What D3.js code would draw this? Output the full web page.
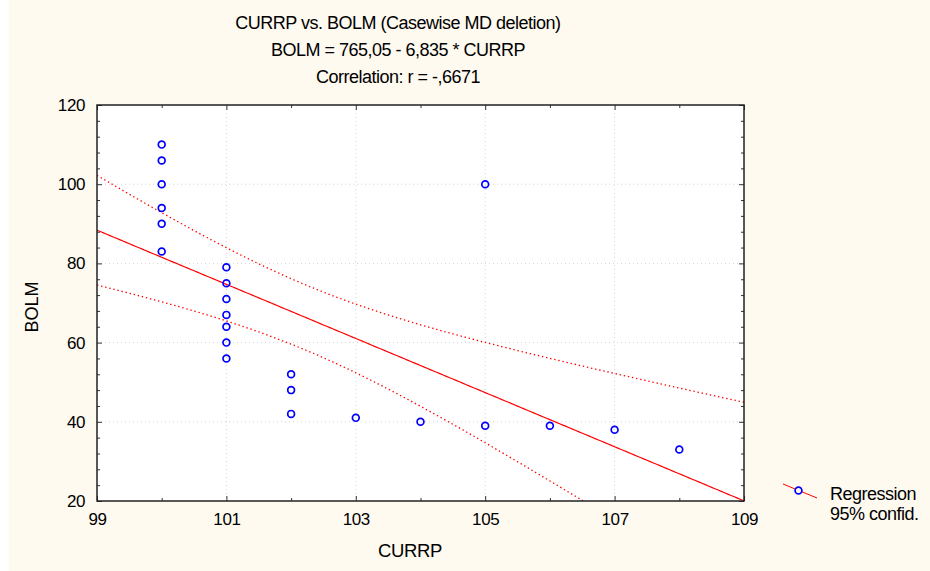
<!DOCTYPE html>
<html>
<head>
<meta charset="utf-8">
<script src="https://cdn.jsdelivr.net/npm/d3@7"></script>
<style>
  html, body { margin: 0; padding: 0; background: #ffffff; }
  svg { display: block; }
  text { font-family: "Liberation Sans", Arial, sans-serif; fill: #000; }
</style>
</head>
<body>
<svg id="chart" width="930" height="571"></svg>
<script>
// ---- Data ----
const currp = [100,100,100,100,100,100, 101,101,101,101,101,101,101, 102,102,102, 103, 104, 105,105, 106, 107, 108];
const bolm  = [110,106,100,94,90,83,   79,75,71,67,64,60,56,        52,48,42,    41,  40,  100,39,  39,  38,  33];
const xTicks = [99,101,103,105,107,109];
const yTicks = [20,40,60,80,100,120];
const xMinor = [100,102,104,106,108];
const yMinor = [24,28,32,36,44,48,52,56,64,68,72,76,84,88,92,96,104,108,112,116];
const titleLines = ["CURRP vs. BOLM (Casewise MD deletion)", "BOLM = 765,05 - 6,835 * CURRP", "Correlation: r = -,6671"];
const regIntercept = 765.05, regSlope = -6.835;
const legendLabels = ["Regression", "95% confid."];

// ---- Layout ----
const W = 930, H = 571;
const plot = {left: 97, top: 105, right: 744, bottom: 501};
const svg = d3.select("#chart");

svg.append("rect").attr("x", 0).attr("y", 0).attr("width", W).attr("height", H).attr("fill", "#ffffff");
svg.append("rect").attr("x", 9).attr("y", 0).attr("width", W - 9).attr("height", H).attr("fill", "#fffaf0");

const x = d3.scaleLinear().domain([99, 109]).range([plot.left, plot.right]);
const y = d3.scaleLinear().domain([20, 120]).range([plot.bottom, plot.top]);

svg.append("rect").attr("x", plot.left).attr("y", plot.top)
  .attr("width", plot.right - plot.left).attr("height", plot.bottom - plot.top).attr("fill", "#ffffff");

// grid
const grid = svg.append("g");
grid.selectAll(".gx").data(xTicks.slice(1, -1)).join("line")
  .attr("x1", d => x(d)).attr("x2", d => x(d)).attr("y1", plot.top).attr("y2", plot.bottom)
  .attr("stroke", "#d4d4d4").attr("stroke-width", 1).attr("stroke-dasharray", "1,3");
grid.selectAll(".gy").data(yTicks.slice(1, -1)).join("line")
  .attr("y1", d => y(d)).attr("y2", d => y(d)).attr("x1", plot.left).attr("x2", plot.right)
  .attr("stroke", "#d4d4d4").attr("stroke-width", 1).attr("stroke-dasharray", "1,3");

// regression + confidence bands
const n = currp.length;
const mx = d3.mean(currp);
const sxx = d3.sum(currp, v => (v - mx) ** 2);
const sse = d3.sum(currp, (v, i) => (bolm[i] - (regIntercept + regSlope * v)) ** 2);
const s = Math.sqrt(sse / (n - 2));
const tCrit = 2.0796; // t(0.975, 21)
const xs = d3.range(0, 201).map(i => 99 + i * 0.05);
const fit = v => regIntercept + regSlope * v;
const half = v => tCrit * s * Math.sqrt(1 / n + (v - mx) ** 2 / sxx);

svg.append("clipPath").attr("id", "clip").append("rect")
  .attr("x", plot.left).attr("y", plot.top).attr("width", plot.right - plot.left).attr("height", plot.bottom - plot.top);
const lines = svg.append("g").attr("clip-path", "url(#clip)");
const lineGen = f => d3.line().x(v => x(v)).y(v => y(f(v)))(xs);
lines.append("path").attr("d", lineGen(v => fit(v) + half(v)))
  .attr("fill", "none").attr("stroke", "#ff0000").attr("stroke-width", 1.3).attr("stroke-dasharray", "1.4,2.8");
lines.append("path").attr("d", lineGen(v => fit(v) - half(v)))
  .attr("fill", "none").attr("stroke", "#ff0000").attr("stroke-width", 1.3).attr("stroke-dasharray", "1.4,2.8");
lines.append("path").attr("d", lineGen(fit))
  .attr("fill", "none").attr("stroke", "#ff0000").attr("stroke-width", 1.2);

// points
svg.append("g").selectAll("circle").data(currp).join("circle")
  .attr("cx", d => x(d)).attr("cy", (d, i) => y(bolm[i])).attr("r", 3.4)
  .attr("fill", "none").attr("stroke", "#0000ff").attr("stroke-width", 1.7);

// axes
function styleAxis(g) {
  g.select(".domain").remove();
  g.selectAll(".tick line").attr("stroke", "#333");
  g.selectAll(".tick text").attr("font-size", 17).attr("letter-spacing", -0.4)
    .attr("font-family", "Liberation Sans, Arial, sans-serif").attr("fill", "#000");
}
svg.append("g").attr("transform", `translate(0,${plot.bottom})`)
  .call(d3.axisBottom(x).tickValues(xTicks).tickFormat(d3.format("d")).tickSize(-5).tickPadding(12))
  .call(styleAxis);
svg.append("g").attr("transform", `translate(0,${plot.bottom})`)
  .call(d3.axisBottom(x).tickValues(xMinor).tickFormat("").tickSize(-3)).call(styleAxis);
svg.append("g").attr("transform", `translate(0,${plot.top})`)
  .call(d3.axisTop(x).tickValues(xTicks).tickFormat("").tickSize(-5)).call(styleAxis);
svg.append("g").attr("transform", `translate(0,${plot.top})`)
  .call(d3.axisTop(x).tickValues(xMinor).tickFormat("").tickSize(-3)).call(styleAxis);
svg.append("g").attr("transform", `translate(${plot.left},0)`)
  .call(d3.axisLeft(y).tickValues(yTicks).tickFormat(d3.format("d")).tickSize(-5).tickPadding(12))
  .call(styleAxis);
svg.append("g").attr("transform", `translate(${plot.left},0)`)
  .call(d3.axisLeft(y).tickValues(yMinor).tickFormat("").tickSize(-3)).call(styleAxis);
svg.append("g").attr("transform", `translate(${plot.right},0)`)
  .call(d3.axisRight(y).tickValues(yTicks).tickFormat("").tickSize(-5)).call(styleAxis);
svg.append("g").attr("transform", `translate(${plot.right},0)`)
  .call(d3.axisRight(y).tickValues(yMinor).tickFormat("").tickSize(-3)).call(styleAxis);

// frame
svg.append("rect").attr("x", plot.left).attr("y", plot.top)
  .attr("width", plot.right - plot.left).attr("height", plot.bottom - plot.top)
  .attr("fill", "none").attr("stroke", "#222").attr("stroke-width", 1.5);

// titles
svg.append("g").selectAll("text").data(titleLines).join("text")
  .attr("x", 398).attr("y", (d, i) => 28.5 + i * 27.3)
  .attr("text-anchor", "middle").attr("font-size", 18).attr("letter-spacing", -0.5).text(d => d);

// axis titles
svg.append("text").attr("x", 410).attr("y", 557).attr("text-anchor", "middle")
  .attr("font-size", 18.5).attr("letter-spacing", -0.4).text("CURRP");
svg.append("text").attr("transform", `translate(38,${(plot.top + plot.bottom) / 2 + 4}) rotate(-90)`)
  .attr("text-anchor", "middle").attr("font-size", 18).text("BOLM");

// legend
const lg = svg.append("g");
lg.append("line").attr("x1", 783).attr("y1", 484).attr("x2", 817).attr("y2", 498)
  .attr("stroke", "#ff0000").attr("stroke-width", 1);
lg.append("circle").attr("cx", 798.5).attr("cy", 490.5).attr("r", 3.4)
  .attr("fill", "#fffaf0").attr("stroke", "#0000ff").attr("stroke-width", 1.7);
lg.selectAll("text").data(legendLabels).join("text")
  .attr("x", 830).attr("y", (d, i) => 500 + i * 19.5)
  .attr("font-size", 18).attr("letter-spacing", -0.5).text(d => d);
</script>
</body>
</html>
